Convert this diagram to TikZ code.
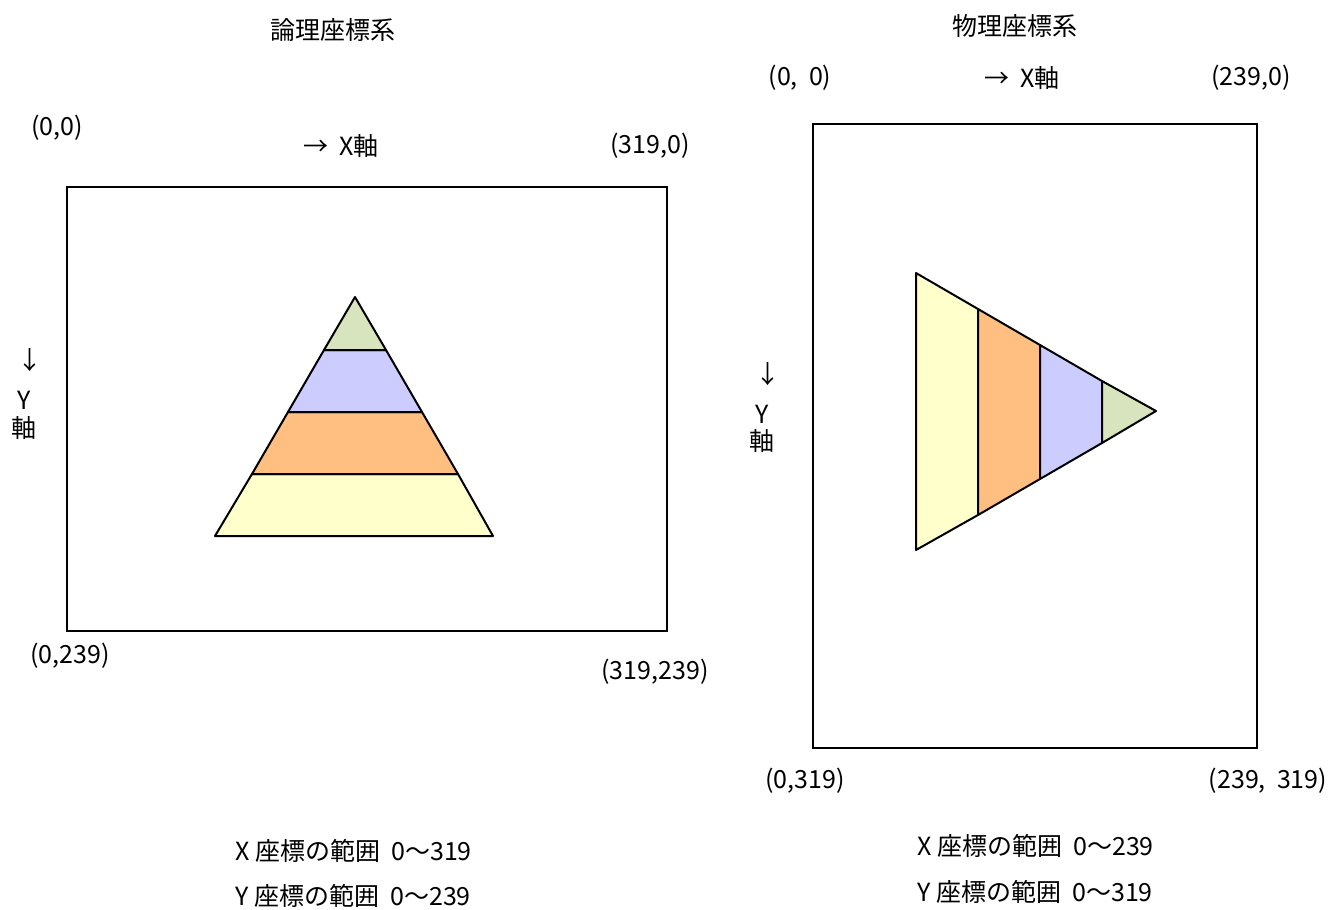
\documentclass[tikz,border=0pt]{standalone}
\usepackage{fontspec}
\setmainfont{Noto Sans CJK JP}
\begin{document}
\begin{tikzpicture}[x=1pt,y=-1pt,
  lbl/.style={inner sep=0pt,font=\fontsize{25}{27}\selectfont},
  frame/.style={draw=black,line width=1.8pt},
  seg/.style={draw=black,line width=2pt,line join=round}]
\definecolor{cgreen}{HTML}{D7E4BD}
\definecolor{cblue}{HTML}{CCCCFF}
\definecolor{corange}{HTML}{FFBF80}
\definecolor{cyellow}{HTML}{FFFFCC}
\useasboundingbox[fill=white] (0,0) rectangle (1333,910);

% ---------- logical coordinate system ----------
\node[lbl] (t1) at (333,30) {論理座標系};
\node[lbl] (l00) at (57,128) {(0,0)};
\node[lbl] (lx) at (341,146) {→\ \ X軸};
\node[lbl] (l3190) at (650,146) {(319,0)};
\node[lbl] (ldown) at (30,360) {↓};
\node[lbl] (lY) at (24,400) {Y};
\node[lbl] (lJ) at (24,428) {軸};
\node[lbl] (l0239) at (70,656) {(0,239)};
\node[lbl] (l319239) at (655,672) {(319,239)};
\draw[frame] (67,187) rectangle (667,631);

% pyramid: apex (355,297), base y 536, x 215..493
\filldraw[seg,fill=cyellow] (252,474) -- (458,474) -- (493,536) -- (215,536) -- cycle;
\filldraw[seg,fill=corange] (288,412) -- (422,412) -- (458,474) -- (252,474) -- cycle;
\filldraw[seg,fill=cblue] (324,350) -- (386,350) -- (422,412) -- (288,412) -- cycle;
\filldraw[seg,fill=cgreen] (355,297) -- (386,350) -- (324,350) -- cycle;

\node[lbl,anchor=west] (lr1) at (235,851) {X 座標の範囲\ \ 0～319};
\node[lbl,anchor=west] (lr2) at (235,896) {Y 座標の範囲\ \ 0～239};

% ---------- physical coordinate system ----------
\node[lbl] (t2) at (1015,26) {物理座標系};
\node[lbl] (r00) at (800,78) {(0,\ \ 0)};
\node[lbl] (rx) at (1022,78) {→\ \ X軸};
\node[lbl] (r2390) at (1251,78) {(239,0)};
\node[lbl] (rdown) at (768,374) {↓};
\node[lbl] (rY) at (762,414) {Y};
\node[lbl] (rJ) at (762,441) {軸};
\node[lbl] (r0319) at (805,781) {(0,319)};
\node[lbl] (r239319) at (1268,781) {(239,\ \ 319)};
\draw[frame] (813,124) rectangle (1257,748);

% rotated pyramid: base x 916 (y 273..550), apex (1156,411)
\filldraw[seg,fill=cyellow] (916,273) -- (978,309) -- (978,515) -- (916,550) -- cycle;
\filldraw[seg,fill=corange] (978,309) -- (1040,345) -- (1040,479) -- (978,515) -- cycle;
\filldraw[seg,fill=cblue] (1040,345) -- (1102,381) -- (1102,443) -- (1040,479) -- cycle;
\filldraw[seg,fill=cgreen] (1102,381) -- (1156,411) -- (1102,443) -- cycle;

\node[lbl,anchor=west] (rr1) at (917,846) {X 座標の範囲\ \ 0～239};
\node[lbl,anchor=west] (rr2) at (917,892) {Y 座標の範囲\ \ 0～319};
\end{tikzpicture}
\end{document}
